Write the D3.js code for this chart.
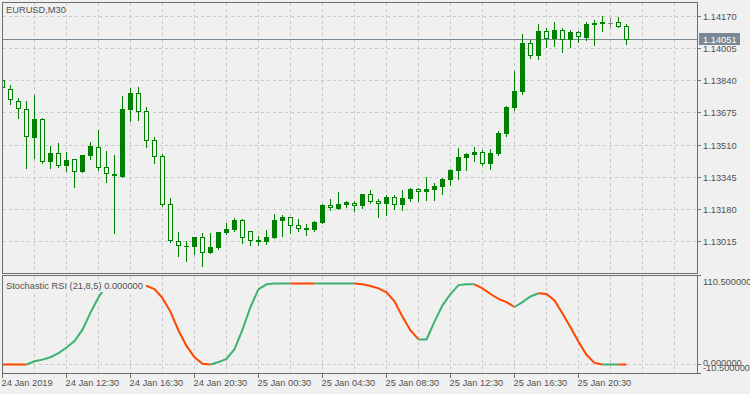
<!DOCTYPE html>
<html>
<head>
<meta charset="utf-8">
<script src="https://cdnjs.cloudflare.com/ajax/libs/d3/7.8.5/d3.min.js"></script>
<style>
  body { margin: 0; background: #f0f0f0; }
  svg { display: block; font-family: "Liberation Sans", Arial, sans-serif; font-size: 9.3px; }
</style>
</head>
<body>
<script>
// EURUSD M30 bars, 24 Jan 08:30 .. 25 Jan 21:30
var open = [1.13845,1.13800,1.13738,1.13697,1.13547,1.13646,1.13424,1.13467,1.13403,1.13436,
  1.13372,1.13456,1.13502,1.13395,1.13364,1.13347,1.13690,1.13775,1.13683,1.13538,
  1.13453,1.13210,1.13016,1.12992,1.12988,1.13038,1.12957,1.12983,1.13058,1.13074,
  1.13123,1.13069,1.13014,1.13014,1.13034,1.13121,1.13140,1.13098,1.13074,1.13074,
  1.13111,1.13202,1.13183,1.13203,1.13212,1.13198,1.13258,1.13222,1.13207,1.13243,
  1.13200,1.13232,1.13282,1.13268,1.13279,1.13294,1.13330,1.13378,1.13444,1.13458,
  1.13472,1.13413,1.13463,1.13566,1.13699,1.13781,1.14032,1.13967,1.14093,1.14054,
  1.14103,1.14049,1.14088,1.14059,1.14125,1.14134,1.14139,1.14143,1.14119];
var high = [1.13847,1.13817,1.13750,1.13735,1.13765,1.13648,1.13504,1.13519,1.13473,1.13437,
  1.13461,1.13525,1.13586,1.13478,1.13461,1.13760,1.13803,1.13806,1.13704,1.13552,
  1.13465,1.13238,1.13063,1.13016,1.13040,1.13058,1.13058,1.13066,1.13109,1.13135,
  1.13130,1.13071,1.13041,1.13074,1.13156,1.13149,1.13143,1.13128,1.13104,1.13121,
  1.13205,1.13231,1.13268,1.13224,1.13222,1.13260,1.13279,1.13234,1.13253,1.13253,
  1.13279,1.13289,1.13292,1.13345,1.13314,1.13340,1.13386,1.13494,1.13468,1.13499,
  1.13487,1.13489,1.13581,1.13709,1.13888,1.14078,1.14051,1.14129,1.14112,1.14144,
  1.14109,1.14103,1.14098,1.14144,1.14150,1.14175,1.14160,1.14170,1.14134];
var low = [1.13799,1.13723,1.13649,1.13393,1.13444,1.13418,1.13393,1.13398,1.13378,1.13296,
  1.13371,1.13439,1.13383,1.13321,1.13060,1.13345,1.13634,1.13639,1.13500,1.13418,
  1.13198,1.13012,1.12940,1.12916,1.12952,1.12891,1.12956,1.12976,1.13053,1.13069,
  1.13009,1.12998,1.12998,1.13003,1.13033,1.13045,1.13060,1.13070,1.13048,1.13070,
  1.13110,1.13178,1.13181,1.13193,1.13173,1.13188,1.13213,1.13142,1.13152,1.13180,
  1.13178,1.13225,1.13222,1.13227,1.13227,1.13260,1.13306,1.13337,1.13383,1.13429,
  1.13408,1.13388,1.13458,1.13555,1.13692,1.13772,1.13956,1.13951,1.14013,1.14018,
  1.13987,1.14013,1.14038,1.14049,1.14023,1.14095,1.14114,1.14114,1.14028];
var close = [1.13801,1.13743,1.13697,1.13549,1.13646,1.13424,1.13467,1.13403,1.13432,1.13374,
  1.13458,1.13504,1.13393,1.13364,1.13349,1.13694,1.13775,1.13682,1.13533,1.13451,
  1.13200,1.13019,1.12990,1.12989,1.13038,1.12957,1.12987,1.13064,1.13079,1.13125,
  1.13031,1.13016,1.13024,1.13038,1.13125,1.13140,1.13096,1.13080,1.13084,1.13115,
  1.13202,1.13188,1.13207,1.13216,1.13198,1.13258,1.13219,1.13208,1.13243,1.13203,
  1.13238,1.13284,1.13270,1.13284,1.13301,1.13337,1.13381,1.13449,1.13463,1.13473,
  1.13413,1.13468,1.13571,1.13704,1.13786,1.14032,1.13967,1.14093,1.14054,1.14103,
  1.14049,1.14088,1.14064,1.14129,1.14139,1.14144,1.14139,1.14115,1.14051];

// stochastic rsi (21,8,5) and its colour buffer (1 = rising colour)
var stoch = [0,0,0,0,4,6,9,14,21,29,
  43,64,83,97,100,100,100,100,97,93,
  82,65,42,23,9,1,0,3,7,19,
  43,71,93,99,100,100,100,100,100,100,
  100,100,100,100,100,99,97,94,89,78,
  59,42,31,31,53,73,87,98,99,99,
  94,87,81,77,71,77,84,88,87,79,
  63,46,28,12,2,0,0,0,0];
var stochUp = [0,0,0,0,1,1,1,1,1,1,
  1,1,1,1,1,1,1,1,0,0,
  0,0,0,0,0,0,0,1,1,1,
  1,1,1,1,1,1,1,0,0,0,
  1,1,1,1,1,0,0,0,0,0,
  0,0,0,1,1,1,1,1,1,1,
  0,0,0,0,0,1,1,1,0,0,
  0,0,0,0,0,0,1,1,0];

var priceTicks = [1.14170, 1.14005, 1.13840, 1.13675, 1.13510, 1.13345, 1.13180, 1.13015];
var stochTicks = ['110.500000', '0.000000', '-10.500000'];
var timeLabels = ['24 Jan 2019', '24 Jan 12:30', '24 Jan 16:30', '24 Jan 20:30', '25 Jan 00:30',
  '25 Jan 04:30', '25 Jan 08:30', '25 Jan 12:30', '25 Jan 16:30', '25 Jan 20:30'];
var lastPrice = 1.14051;

var width = 750, height = 394;
var bg = '#f0f0f0', fg = '#505050', grid = '#c8c8c8', green = '#008000';

var x = d3.scaleLinear().domain([0, 86.875]).range([2.5, 697.5]);
var y = d3.scaleLinear().domain([1.13015, 1.14170]).range([241.5, 16.5]);
var ys = d3.scaleLinear().domain([-10.5, 110.5]).range([373, 275]);

var svg = d3.select('body').append('svg')
    .attr('width', width)
    .attr('height', height);

svg.append('rect').attr('width', width).attr('height', height).attr('fill', bg);

var defs = svg.append('defs');
defs.append('clipPath').attr('id', 'clipMain')
  .append('rect').attr('x', 3).attr('y', 3).attr('width', 694).attr('height', 270);
defs.append('clipPath').attr('id', 'clipSub')
  .append('rect').attr('x', 3).attr('y', 276).attr('width', 694).attr('height', 97);

var bars = d3.range(open.length);
var vgrid = d3.range(4, 87, 4);

// grid
var gMain = svg.append('g').attr('clip-path', 'url(#clipMain)');
var gSub = svg.append('g').attr('clip-path', 'url(#clipSub)');

gMain.selectAll('.vg').data(vgrid).enter().append('line')
    .attr('x1', function(d) { return x(d); }).attr('x2', function(d) { return x(d); })
    .attr('y1', 3).attr('y2', 273)
    .attr('stroke', grid).attr('stroke-dasharray', '3,3');
gMain.selectAll('.hg').data(priceTicks).enter().append('line')
    .attr('x1', 3).attr('x2', 697)
    .attr('y1', function(d) { return Math.floor(y(d)) + 0.5; })
    .attr('y2', function(d) { return Math.floor(y(d)) + 0.5; })
    .attr('stroke', grid).attr('stroke-dasharray', '3,3');
gSub.selectAll('.vg').data(vgrid).enter().append('line')
    .attr('x1', function(d) { return x(d); }).attr('x2', function(d) { return x(d); })
    .attr('y1', 276).attr('y2', 373)
    .attr('stroke', grid).attr('stroke-dasharray', '3,3');
gSub.append('line')
    .attr('x1', 3).attr('x2', 697)
    .attr('y1', ys(0)).attr('y2', ys(0))
    .attr('stroke', grid).attr('stroke-dasharray', '3,3');

// price line
gMain.append('line')
    .attr('x1', 3).attr('x2', 697)
    .attr('y1', Math.floor(y(lastPrice)) + 0.5).attr('y2', Math.floor(y(lastPrice)) + 0.5)
    .attr('stroke', '#7a8794');

// candles
function py(p) { return Math.round(y(p)); }
function candleColor(i) { return open[i] === close[i] ? '#808080' : green; }

gMain.selectAll('.wick').data(bars).enter().append('line')
    .attr('x1', function(i) { return x(i); }).attr('x2', function(i) { return x(i); })
    .attr('y1', function(i) { return py(high[i]); })
    .attr('y2', function(i) { return py(low[i]) + 1; })
    .attr('stroke', candleColor);

bars.forEach(function(i) {
  var top = py(Math.max(open[i], close[i]));
  var bot = py(Math.min(open[i], close[i]));
  var bull = close[i] > open[i];
  if (bot - top <= 1) {
    gMain.append('line')
        .attr('x1', x(i) - 2.5).attr('x2', x(i) + 2.5)
        .attr('y1', top + 0.5).attr('y2', top + 0.5)
        .attr('stroke', candleColor(i));
  } else if (bull) {
    gMain.append('rect')
        .attr('x', x(i) - 2.5).attr('y', top)
        .attr('width', 5).attr('height', bot - top)
        .attr('fill', green);
  } else {
    gMain.append('rect')
        .attr('x', x(i) - 2).attr('y', top + 0.5)
        .attr('width', 4).attr('height', bot - top - 1)
        .attr('fill', bg).attr('stroke', green);
  }
});

// stochastic line, split into runs of one colour
var runs = [];
for (var k = 1; k < stoch.length; k++) {
  var last = runs[runs.length - 1];
  if (last && last.up === stochUp[k]) last.pts.push(k);
  else runs.push({ up: stochUp[k], pts: [k - 1, k] });
}
var line = d3.line()
    .x(function(i) { return x(i); })
    .y(function(i) { return ys(stoch[i]); });
gSub.selectAll('.run').data(runs).enter().append('path')
    .attr('d', function(d) { return line(d.pts); })
    .attr('fill', 'none')
    .attr('stroke', function(d) { return d.up ? '#3cb371' : '#ff4500'; })
    .attr('stroke-width', 2);

// panel borders
svg.append('rect').attr('x', 2.5).attr('y', 2.5).attr('width', 695).attr('height', 271)
    .attr('fill', 'none').attr('stroke', '#6e6e6e');
svg.append('rect').attr('x', 2.5).attr('y', 275.5).attr('width', 695).attr('height', 98)
    .attr('fill', 'none').attr('stroke', '#6e6e6e');

// price axis
svg.selectAll('.ptick').data(priceTicks).enter().append('line')
    .attr('x1', 698).attr('x2', 701)
    .attr('y1', function(d) { return Math.floor(y(d)) + 0.5; })
    .attr('y2', function(d) { return Math.floor(y(d)) + 0.5; })
    .attr('stroke', '#6e6e6e');
svg.selectAll('.plab').data(priceTicks).enter().append('text')
    .attr('x', 703).attr('y', function(d) { return Math.floor(y(d)) + 4; })
    .attr('fill', fg)
    .text(function(d) { return d.toFixed(5); });

var ly = Math.floor(y(lastPrice));
svg.append('rect').attr('x', 699).attr('y', ly - 6).attr('width', 41).attr('height', 12)
    .attr('fill', '#7a8794');
svg.append('text').attr('x', 703).attr('y', ly + 4)
    .attr('fill', '#ffffff').text(lastPrice.toFixed(5));

// stochastic axis
var stochTickY = [ys(110.5) + 0.5, ys(0), ys(-10.5) + 0.5];
svg.selectAll('.stick').data(stochTickY).enter().append('line')
    .attr('x1', 698).attr('x2', 701)
    .attr('y1', function(d) { return d; }).attr('y2', function(d) { return d; })
    .attr('stroke', '#6e6e6e');
var stochLabY = [284.5, 366, 370.5];
svg.selectAll('.slab').data(stochTicks).enter().append('text')
    .attr('x', 703).attr('y', function(d, i) { return stochLabY[i]; })
    .attr('fill', fg)
    .text(function(d) { return d; });

// time axis
svg.selectAll('.ttick').data(timeLabels).enter().append('line')
    .attr('x1', function(d, i) { return x(i * 8); }).attr('x2', function(d, i) { return x(i * 8); })
    .attr('y1', 374).attr('y2', 378)
    .attr('stroke', '#6e6e6e');
svg.selectAll('.tlab').data(timeLabels).enter().append('text')
    .attr('x', function(d, i) { return x(i * 8) - 1; })
    .attr('y', 385.5)
    .attr('fill', fg)
    .text(function(d) { return d; });

// titles
svg.append('text').attr('x', 6).attr('y', 12.5).attr('fill', fg).text('EURUSD,M30');

var sLabel = svg.append('text').attr('x', 6).attr('y', 288.5).attr('fill', fg)
    .text('Stochastic RSI (21,8,5) 0.000000');
var bb = sLabel.node().getBBox();
svg.insert('rect', function() { return sLabel.node(); })
    .attr('x', 3).attr('y', 279).attr('width', bb.width + 6).attr('height', 13)
    .attr('fill', bg);
</script>
</body>
</html>
